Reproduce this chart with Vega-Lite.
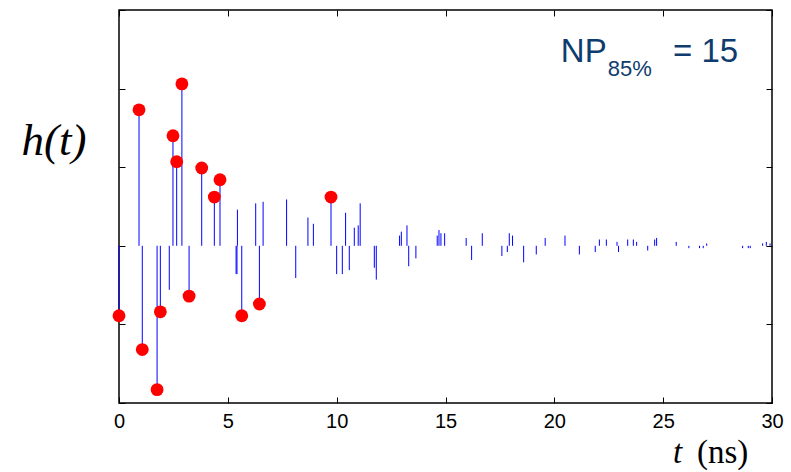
{
  "$schema": "https://vega.github.io/schema/vega-lite/v6.json",
  "width": 653,
  "height": 393,
  "autosize": {"type": "none"},
  "padding": {"left": 119, "top": 10, "right": 19, "bottom": 69},
  "background": "white",
  "config": {
    "view": {"stroke": "#000000", "strokeWidth": 1.5},
    "axis": {"domain": false, "grid": false, "ticks": true, "tickColor": "#000000", "tickWidth": 1, "tickSize": -6, "title": null}
  },
  "datasets": {
    "stems": [
      {"t": 0.0, "v": -0.89, "sel": true},
      {"t": 0.92, "v": 1.73, "sel": true},
      {"t": 1.07, "v": -1.32, "sel": true},
      {"t": 1.75, "v": -1.83, "sel": true},
      {"t": 1.90, "v": -0.84, "sel": true},
      {"t": 2.31, "v": -0.56, "sel": false},
      {"t": 2.48, "v": 1.40, "sel": true},
      {"t": 2.65, "v": 1.07, "sel": true},
      {"t": 2.89, "v": 2.06, "sel": true},
      {"t": 3.22, "v": -0.64, "sel": true},
      {"t": 3.80, "v": 0.99, "sel": true},
      {"t": 4.38, "v": 0.62, "sel": true},
      {"t": 4.64, "v": 0.84, "sel": true},
      {"t": 5.38, "v": -0.36, "sel": false},
      {"t": 5.42, "v": -0.36, "sel": false},
      {"t": 5.44, "v": 0.46, "sel": false},
      {"t": 5.64, "v": -0.89, "sel": true},
      {"t": 6.28, "v": 0.54, "sel": false},
      {"t": 6.45, "v": -0.74, "sel": true},
      {"t": 6.62, "v": 0.56, "sel": false},
      {"t": 7.70, "v": 0.59, "sel": false},
      {"t": 8.12, "v": -0.41, "sel": false},
      {"t": 8.68, "v": 0.36, "sel": false},
      {"t": 8.93, "v": 0.28, "sel": false},
      {"t": 9.74, "v": 0.62, "sel": true},
      {"t": 10.0, "v": -0.36, "sel": false},
      {"t": 10.26, "v": -0.36, "sel": false},
      {"t": 10.41, "v": 0.42, "sel": false},
      {"t": 10.58, "v": -0.31, "sel": false},
      {"t": 10.81, "v": 0.23, "sel": false},
      {"t": 10.99, "v": 0.26, "sel": false},
      {"t": 11.08, "v": 0.54, "sel": false},
      {"t": 11.73, "v": -0.28, "sel": false},
      {"t": 11.82, "v": -0.43, "sel": false},
      {"t": 12.89, "v": 0.13, "sel": false},
      {"t": 12.97, "v": 0.18, "sel": false},
      {"t": 13.23, "v": 0.26, "sel": false},
      {"t": 13.31, "v": -0.26, "sel": false},
      {"t": 13.64, "v": -0.16, "sel": false},
      {"t": 14.62, "v": 0.13, "sel": false},
      {"t": 14.70, "v": 0.20, "sel": false},
      {"t": 14.79, "v": 0.16, "sel": false},
      {"t": 14.96, "v": 0.16, "sel": false},
      {"t": 15.95, "v": 0.10, "sel": false},
      {"t": 16.20, "v": -0.18, "sel": false},
      {"t": 16.69, "v": 0.16, "sel": false},
      {"t": 17.59, "v": -0.13, "sel": false},
      {"t": 17.84, "v": -0.08, "sel": false},
      {"t": 17.93, "v": 0.16, "sel": false},
      {"t": 18.08, "v": 0.13, "sel": false},
      {"t": 18.59, "v": -0.21, "sel": false},
      {"t": 19.17, "v": -0.11, "sel": false},
      {"t": 19.58, "v": 0.10, "sel": false},
      {"t": 20.49, "v": 0.13, "sel": false},
      {"t": 21.15, "v": -0.11, "sel": false},
      {"t": 21.88, "v": -0.08, "sel": false},
      {"t": 22.07, "v": 0.08, "sel": false},
      {"t": 22.39, "v": 0.08, "sel": false},
      {"t": 22.88, "v": 0.05, "sel": false},
      {"t": 22.95, "v": -0.08, "sel": false},
      {"t": 23.37, "v": 0.08, "sel": false},
      {"t": 23.63, "v": 0.08, "sel": false},
      {"t": 23.78, "v": 0.05, "sel": false},
      {"t": 24.29, "v": -0.06, "sel": false},
      {"t": 24.61, "v": 0.08, "sel": false},
      {"t": 24.70, "v": 0.10, "sel": false},
      {"t": 25.60, "v": 0.05, "sel": false},
      {"t": 26.18, "v": -0.03, "sel": false},
      {"t": 26.67, "v": -0.03, "sel": false},
      {"t": 26.84, "v": -0.03, "sel": false},
      {"t": 27.0, "v": 0.03, "sel": false},
      {"t": 28.65, "v": -0.03, "sel": false},
      {"t": 28.91, "v": -0.03, "sel": false},
      {"t": 29.0, "v": -0.03, "sel": false},
      {"t": 29.57, "v": 0.03, "sel": false},
      {"t": 29.74, "v": 0.05, "sel": false},
      {"t": 29.91, "v": 0.03, "sel": false}
    ]
  },
  "layer": [
    {
      "data": {"name": "stems"},
      "mark": {"type": "rule", "color": "#0000ff", "strokeWidth": 1},
      "encoding": {
        "x": {"field": "t", "type": "quantitative", "scale": {"domain": [0, 30], "nice": false, "zero": false},
              "axis": {"orient": "bottom", "values": [0, 5, 10, 15, 20, 25, 30], "labelFont": "Liberation Sans", "labelFontSize": 20, "labelColor": "#000000", "labelPadding": 14, "labelFlush": false}},
        "y": {"field": "v", "type": "quantitative", "scale": {"domain": [-2, 3], "nice": false, "zero": false},
              "axis": {"orient": "left", "values": [-2, -1, 0, 1, 2, 3], "labels": false}},
        "y2": {"datum": 0}
      }
    },
    {
      "data": {"name": "stems"},
      "mark": {"type": "rule", "color": "#0000ff", "strokeWidth": 1, "opacity": 0},
      "encoding": {
        "x": {"field": "t", "type": "quantitative", "axis": {"orient": "top", "values": [0, 5, 10, 15, 20, 25, 30], "labels": false}},
        "y": {"field": "v", "type": "quantitative", "axis": {"orient": "right", "values": [-2, -1, 0, 1, 2, 3], "labels": false}}
      }
    },
    {
      "mark": {"type": "rule", "color": "#333333", "strokeWidth": 1.2},
      "encoding": {"y": {"datum": 0, "axis": null}}
    },
    {
      "data": {"name": "stems"},
      "transform": [{"filter": "datum.sel"}],
      "mark": {"type": "point", "filled": true, "color": "#ff0000", "size": 165, "opacity": 1},
      "encoding": {
        "x": {"field": "t", "type": "quantitative", "axis": null},
        "y": {"field": "v", "type": "quantitative", "axis": null}
      }
    },
    {
      "data": {"values": [{"t": 20.3, "v": 2.34, "label": "NP"}, {"t": 25.45, "v": 2.34, "label": "= 15"}]},
      "mark": {"type": "text", "align": "left", "baseline": "alphabetic", "font": "Liberation Sans", "fontSize": 33, "color": "#0e3c6e"},
      "encoding": {
        "x": {"field": "t", "type": "quantitative", "axis": null},
        "y": {"field": "v", "type": "quantitative", "axis": null},
        "text": {"field": "label"}
      }
    },
    {
      "data": {"values": [{"t": 22.45, "v": 2.166, "label": "85%"}]},
      "mark": {"type": "text", "align": "left", "baseline": "alphabetic", "font": "Liberation Sans", "fontSize": 22, "color": "#0e3c6e"},
      "encoding": {
        "x": {"field": "t", "type": "quantitative", "axis": null},
        "y": {"field": "v", "type": "quantitative", "axis": null},
        "text": {"field": "label"}
      }
    },
    {
      "data": {"values": [{"t": -2.99, "v": 1.16, "label": "h(t)"}]},
      "mark": {"type": "text", "align": "center", "baseline": "alphabetic", "font": "Liberation Serif", "fontStyle": "italic", "fontSize": 45, "color": "#000000"},
      "encoding": {
        "x": {"field": "t", "type": "quantitative", "axis": null},
        "y": {"field": "v", "type": "quantitative", "axis": null},
        "text": {"field": "label"}
      }
    },
    {
      "data": {"values": [{"t": 25.45, "v": -2.76, "label": "t"}]},
      "mark": {"type": "text", "align": "left", "baseline": "alphabetic", "font": "Liberation Serif", "fontStyle": "italic", "fontSize": 33, "color": "#000000"},
      "encoding": {
        "x": {"field": "t", "type": "quantitative", "axis": null},
        "y": {"field": "v", "type": "quantitative", "axis": null},
        "text": {"field": "label"}
      }
    },
    {
      "data": {"values": [{"t": 26.55, "v": -2.76, "label": "(ns)"}]},
      "mark": {"type": "text", "align": "left", "baseline": "alphabetic", "font": "Liberation Serif", "fontSize": 33, "color": "#000000"},
      "encoding": {
        "x": {"field": "t", "type": "quantitative", "axis": null},
        "y": {"field": "v", "type": "quantitative", "axis": null},
        "text": {"field": "label"}
      }
    }
  ],
  "resolve": {"axis": {"x": "independent", "y": "independent"}}
}
